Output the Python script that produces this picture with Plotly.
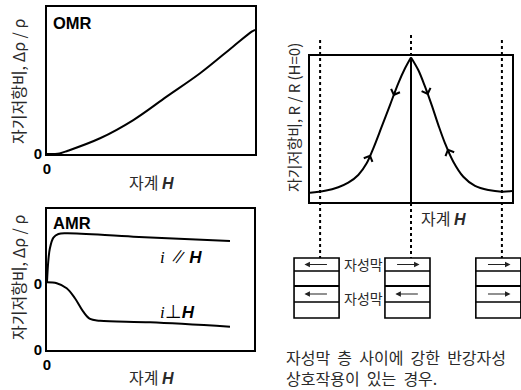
import numpy as np
import plotly.graph_objects as go

W, H = 521, 390

# ---------------- data ----------------
# OMR: ordinary magnetoresistance
omr_field = [0, 0.6, 1.0, 2.55, 4.15, 5.75, 7.36, 8.94, 9.84, 10.0]
omr_ratio = [0, 0.04, 0.22, 1.07, 2.31, 3.90, 5.49, 7.30, 8.32, 8.45]

# AMR: anisotropic magnetoresistance
amr_par_field = [0, 0.06, 0.14, 0.31, 0.55, 0.95, 4.17, 8.84]
amr_par_ratio = [4.80, 6.26, 7.21, 7.97, 8.23, 8.28, 8.04, 7.73]
amr_perp_field = [0, 0.47, 0.95, 1.35, 1.75, 2.08, 2.56, 4.98, 8.84]
amr_perp_ratio = [4.80, 4.73, 4.38, 3.67, 2.72, 2.20, 2.08, 1.96, 1.65]
amr_zero = 4.7

# GMR: R / R(H=0)
gmr_left_field = [-1.0, -0.851, -0.720, -0.621, -0.522, -0.439, -0.373, -0.290, -0.208, -0.126, -0.059, 0.0]
gmr_left_ratio = [0.064, 0.077, 0.101, 0.132, 0.185, 0.265, 0.368, 0.516, 0.664, 0.813, 0.916, 0.99]
gmr_right_field = [0.0, 0.072, 0.139, 0.205, 0.271, 0.337, 0.419, 0.518, 0.634, 0.766, 0.898, 1.0]
gmr_right_ratio = [0.99, 0.904, 0.790, 0.664, 0.527, 0.402, 0.276, 0.173, 0.110, 0.082, 0.071, 0.075]

# sweep-direction arrowheads on the GMR curve
arrow_fields = [-0.175, -0.40, 0.17, 0.36]
arrow_dirs = ["down", "up", "down", "up"]

# magnetic layer stacks under the GMR curve
stack_fields = [-0.9, 0.0, 0.9]
top_layer_dir = [-1, 1, 1]
bottom_layer_dir = [-1, -1, 1]

KR = "Noto Sans CJK KR"
SANS = "Liberation Sans"
TXT = "#2a2a2a"
WS = " \u00a0"  # wide word gap


def px(x):
    return x / W


def py(y):
    return 1 - y / H


X3_DOMAIN = [px(310), px(512)]
X3_RANGE = [-1, 1]


def h2paper(h):
    # same linear scale as xaxis3, for schematic elements that extend past its domain
    return X3_DOMAIN[0] + (h - X3_RANGE[0]) / (X3_RANGE[1] - X3_RANGE[0]) * (X3_DOMAIN[1] - X3_DOMAIN[0])


fig = go.Figure()

sp = dict(color="black", width=2, shape="spline")
fig.add_trace(go.Scatter(x=omr_field, y=omr_ratio, mode="lines", line=sp, xaxis="x", yaxis="y", showlegend=False))
fig.add_trace(go.Scatter(x=amr_par_field, y=amr_par_ratio, mode="lines", line=sp, xaxis="x2", yaxis="y2", showlegend=False))
fig.add_trace(go.Scatter(x=amr_perp_field, y=amr_perp_ratio, mode="lines", line=sp, xaxis="x2", yaxis="y2", showlegend=False))
fig.add_trace(go.Scatter(x=gmr_left_field, y=gmr_left_ratio, mode="lines", line=sp, xaxis="x3", yaxis="y3", showlegend=False))
fig.add_trace(go.Scatter(x=gmr_right_field, y=gmr_right_ratio, mode="lines", line=sp, xaxis="x3", yaxis="y3", showlegend=False))

bold0 = dict(family=SANS, size=15, color="black")
common = dict(showline=True, mirror=True, linecolor="black", linewidth=2, showgrid=False, automargin=False,
              zeroline=False, ticks="", tickfont=bold0, fixedrange=True)

fig.update_layout(
    width=W, height=H, margin=dict(l=0, r=0, t=0, b=0, autoexpand=False),
    paper_bgcolor="white", plot_bgcolor="white", showlegend=False,
    xaxis=dict(domain=[px(47), px(255)], range=[0, 10], tickvals=[0], ticktext=["<b>0</b>"], anchor="y", **common),
    yaxis=dict(domain=[py(154), py(7)], range=[0, 10], tickvals=[0], ticktext=["<b>0</b>"], anchor="x", **common),
    xaxis2=dict(domain=[px(47), px(254)], range=[0, 10], tickvals=[0], ticktext=["<b>0</b>"], anchor="y2", **common),
    yaxis2=dict(domain=[py(350), py(209)], range=[0, 10], tickvals=[0, amr_zero],
                ticktext=["<b>0</b>", "<b>0</b>"], anchor="x2", **common),
    xaxis3=dict(domain=X3_DOMAIN, range=X3_RANGE, showticklabels=False, anchor="y3", **common),
    yaxis3=dict(domain=[py(202), py(56)], range=[0, 1], showticklabels=False, anchor="x3", **common),
)

shapes = []
shapes.append(dict(type="line", xref="x3", yref="y3", x0=0, x1=0, y0=0, y1=0.99,
                   line=dict(color="black", width=2)))
tops = [40, 35, 40]
for f, t in zip(stack_fields, tops):
    shapes.append(dict(type="line", xref="paper", yref="paper", x0=h2paper(f), x1=h2paper(f), y0=py(t), y1=py(258),
                       line=dict(color="black", width=2, dash="dot")))

half = 0.223
off = -0.035
bounds = [258, 271, 286, 302, 318]
for f in stack_fields:
    c = f + off
    shapes.append(dict(type="rect", xref="paper", yref="paper", x0=h2paper(c - half), x1=h2paper(c + half),
                       y0=py(bounds[-1]), y1=py(bounds[0]), line=dict(color="black", width=1.6),
                       fillcolor="rgba(0,0,0,0)"))
    for i, b in enumerate(bounds[1:-1]):
        shapes.append(dict(type="line", xref="paper", yref="paper", x0=h2paper(c - half), x1=h2paper(c + half),
                           y0=py(b), y1=py(b), line=dict(color="black", width=2 if i == 1 else 1.3)))
fig.update_layout(shapes=shapes)

ann = []


def text(t, x, y, size=15, xanchor="center", angle=0, family=KR, color=TXT):
    ann.append(dict(text=t, x=px(x), y=py(y), xref="paper", yref="paper", showarrow=False,
                    xanchor=xanchor, yanchor="middle", textangle=angle, align="left",
                    font=dict(family=family, size=size, color=color)))


Hb = "<span style='font-family:Liberation Sans'><b><i>H</i></b></span>"
text("<b>OMR</b>", 51, 23, size=16.5, xanchor="left", family=SANS, color="black")
text("<b>AMR</b>", 51, 223, size=16.5, xanchor="left", family=SANS, color="black")
text("자기저항비, Δρ / ρ", 18, 82, size=16, angle=-90)
text("자기저항비, Δρ / ρ", 18, 278, size=16, angle=-90)
text("자기저항비, R / R (H=0)", 293, 118, size=15, angle=-90)
text("자계 " + Hb, 151, 182, size=16)
text("자계 " + Hb, 151, 377, size=16)
text("자계 " + Hb, 443, 218, size=16)
text("<span style='font-family:Liberation Serif'><i>i</i></span> <i>∥</i> " + Hb, 158, 255, size=17,
     xanchor="left", color="black")
text("<span style='font-family:Liberation Serif'><i>i</i></span>⊥" + Hb, 158, 310, size=17,
     xanchor="left", color="black")
text("자성막", 363, 264, size=14)
text("자성막", 363, 298, size=14)
text(WS.join(["자성막", "층", "사이에", "강한", "반강자성"]) + "<br>" + WS.join(["상호작용이", "있는", "경우."]),
     284, 367, size=16, xanchor="left")

allf = gmr_left_field + gmr_right_field[1:]
allr = gmr_left_ratio + gmr_right_ratio[1:]
sx, sy = 101.0, 146.0
for f, d in zip(arrow_fields, arrow_dirs):
    r = float(np.interp(f, allf, allr))
    e = 0.03
    dr = float(np.interp(f + e, allf, allr) - np.interp(f - e, allf, allr))
    vx, vy = 2 * e * sx, -dr * sy
    n = np.hypot(vx, vy)
    vx, vy = vx / n, vy / n
    going_up = vy < 0
    sign = 1 if (d == "up") == going_up else -1
    vx, vy = vx * sign, vy * sign
    L = 7
    ann.append(dict(x=f, y=r, xref="x3", yref="y3", ax=-vx * L, ay=-vy * L, showarrow=True,
                    arrowhead=4, arrowsize=1.4, arrowwidth=1.3, arrowcolor="black", text="", standoff=0))

for f, td, bd in zip(stack_fields, top_layer_dir, bottom_layer_dir):
    c = f + off
    for dirn, yy in ((td, 264.5), (bd, 294)):
        head = c + dirn * 0.12
        ann.append(dict(x=h2paper(head), y=py(yy), xref="paper", yref="paper", ax=-dirn * 24, ay=0,
                        showarrow=True, arrowhead=2, arrowsize=1, arrowwidth=1.1,
                        arrowcolor="#222", text="", standoff=0))

fig.update_layout(annotations=ann)
fig.write_html("out.html", config={"displayModeBar": False},
               post_script="document.body.style.margin='0';document.body.style.overflow='hidden';")
